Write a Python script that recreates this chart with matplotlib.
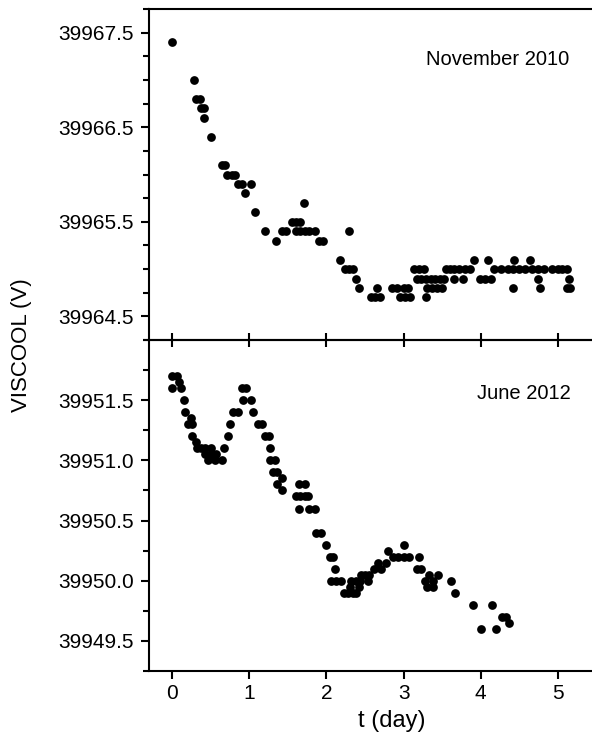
"""
ISCOOL voltage drift over a few days, two measurement campaigns
stacked on a common time axis
"""
import matplotlib
matplotlib.use("Agg")
import matplotlib.pyplot as plt
from matplotlib.ticker import FixedLocator, MultipleLocator, FormatStrFormatter

plt.rcParams["font.family"] = ["Liberation Sans", "DejaVu Sans"]

# November 2010 run: time (day) and voltage (V)
t_nov = [0.00, 0.28, 0.31, 0.36, 0.38, 0.41, 0.41, 0.51, 0.65, 0.69,
         0.71, 0.77, 0.82, 0.86, 0.91, 1.02, 0.95, 1.07, 1.20, 1.35,
         1.42, 1.48, 1.56, 1.61, 1.66, 1.71, 1.60, 1.66, 1.72, 1.78,
         1.85, 1.91, 1.96, 2.17, 2.29, 2.24, 2.29, 2.34, 2.38, 2.42,
         2.58, 2.63, 2.69, 2.65, 2.85, 2.92, 3.00, 3.06, 2.95, 3.02,
         3.08, 3.14, 3.20, 3.26, 3.18, 3.23, 3.29, 3.35, 3.41, 3.47,
         3.53, 3.31, 3.37, 3.43, 3.50, 3.29, 3.55, 3.60, 3.66, 3.72,
         3.79, 3.86, 3.66, 3.77, 3.91, 3.99, 4.06, 4.13, 4.10, 4.17,
         4.26, 4.35, 4.42, 4.50, 4.58, 4.66, 4.74, 4.82, 4.43, 4.64,
         4.42, 4.74, 4.77, 4.93, 5.00, 5.06, 5.12, 5.15, 5.12, 5.16]
v_nov = [39967.4, 39967.0, 39966.8, 39966.8, 39966.7, 39966.7, 39966.6, 39966.4, 39966.1, 39966.1,
         39966.0, 39966.0, 39966.0, 39965.9, 39965.9, 39965.9, 39965.8, 39965.6, 39965.4, 39965.3,
         39965.4, 39965.4, 39965.5, 39965.5, 39965.5, 39965.7, 39965.4, 39965.4, 39965.4, 39965.4,
         39965.4, 39965.3, 39965.3, 39965.1, 39965.4, 39965.0, 39965.0, 39965.0, 39964.9, 39964.8,
         39964.7, 39964.7, 39964.7, 39964.8, 39964.8, 39964.8, 39964.8, 39964.8, 39964.7, 39964.7,
         39964.7, 39965.0, 39965.0, 39965.0, 39964.9, 39964.9, 39964.9, 39964.9, 39964.9, 39964.9,
         39964.9, 39964.8, 39964.8, 39964.8, 39964.8, 39964.7, 39965.0, 39965.0, 39965.0, 39965.0,
         39965.0, 39965.0, 39964.9, 39964.9, 39965.1, 39964.9, 39964.9, 39964.9, 39965.1, 39965.0,
         39965.0, 39965.0, 39965.0, 39965.0, 39965.0, 39965.0, 39965.0, 39965.0, 39965.1, 39965.1,
         39964.8, 39964.9, 39964.8, 39965.0, 39965.0, 39965.0, 39965.0, 39964.9, 39964.8, 39964.8]

# June 2012 run
t_jun = [0.00, 0.06, 0.00, 0.09, 0.12, 0.15, 0.17, 0.24, 0.20, 0.26,
         0.26, 0.31, 0.32, 0.37, 0.42, 0.51, 0.42, 0.50, 0.57, 0.47,
         0.55, 0.64, 0.67, 0.73, 0.75, 0.79, 0.86, 0.90, 0.96, 0.92,
         1.02, 1.05, 1.11, 1.17, 1.20, 1.26, 1.27, 1.27, 1.33, 1.31,
         1.36, 1.42, 1.36, 1.43, 1.60, 1.66, 1.72, 1.76, 1.65, 1.72,
         1.64, 1.78, 1.85, 1.87, 1.93, 2.00, 2.04, 2.09, 2.11, 2.06,
         2.13, 2.19, 2.23, 2.28, 2.34, 2.38, 2.30, 2.42, 2.32, 2.38,
         2.43, 2.45, 2.50, 2.55, 2.54, 2.62, 2.71, 2.67, 2.77, 2.80,
         2.86, 2.93, 3.00, 3.07, 3.20, 3.00, 3.17, 3.23, 3.33, 3.28,
         3.38, 3.31, 3.38, 3.44, 3.61, 3.67, 3.90, 4.15, 4.00, 4.20,
         4.27, 4.33, 4.37]
v_jun = [39951.7, 39951.7, 39951.6, 39951.65, 39951.6, 39951.5, 39951.4, 39951.35, 39951.3, 39951.3,
         39951.2, 39951.15, 39951.1, 39951.1, 39951.1, 39951.1, 39951.05, 39951.05, 39951.05, 39951.0,
         39951.0, 39951.0, 39951.1, 39951.2, 39951.3, 39951.4, 39951.4, 39951.6, 39951.6, 39951.5,
         39951.5, 39951.4, 39951.3, 39951.3, 39951.2, 39951.2, 39951.1, 39951.0, 39951.0, 39950.9,
         39950.9, 39950.85, 39950.8, 39950.75, 39950.7, 39950.7, 39950.7, 39950.7, 39950.8, 39950.8,
         39950.6, 39950.6, 39950.6, 39950.4, 39950.4, 39950.3, 39950.2, 39950.2, 39950.1, 39950.0,
         39950.0, 39950.0, 39949.9, 39949.9, 39949.9, 39949.9, 39949.95, 39949.95, 39950.0, 39950.0,
         39950.0, 39950.05, 39950.05, 39950.05, 39950.0, 39950.1, 39950.1, 39950.15, 39950.15, 39950.25,
         39950.2, 39950.2, 39950.2, 39950.2, 39950.2, 39950.3, 39950.1, 39950.1, 39950.05, 39950.0,
         39950.0, 39949.95, 39949.95, 39950.05, 39950.0, 39949.9, 39949.8, 39949.8, 39949.6, 39949.6,
         39949.7, 39949.7, 39949.65]

nov_ticks = [39964.5, 39965.5, 39966.5, 39967.5]
jun_ticks = [39949.5, 39950.0, 39950.5, 39951.0, 39951.5]
day_ticks = [0, 1, 2, 3, 4, 5]

fig = plt.figure(figsize=(5.92, 7.36), dpi=100)
# the time axis runs on to t=6, past the right edge of the canvas
ax = fig.add_axes([0.2517, 0.5380, 0.8209, 0.4497])
ax2 = fig.add_axes([0.2517, 0.0883, 0.8209, 0.4497])

ax.plot(t_nov, v_nov, "o", color="black", ms=6.3, mew=0)
ax2.plot(t_jun, v_jun, "o", color="black", ms=6.3, mew=0)

for a in (ax, ax2):
    a.patch.set_visible(False)
    a.set_xlim(-0.3, 6.0)
    a.xaxis.set_major_locator(FixedLocator(day_ticks))
    a.yaxis.set_minor_locator(MultipleLocator(0.25))
    a.yaxis.set_major_formatter(FormatStrFormatter("%.1f"))
    a.spines["right"].set_visible(False)
    for s in a.spines.values():
        s.set_linewidth(1.5)
    a.tick_params(axis="y", which="major", direction="out", length=5.5, width=1.5,
                  labelsize=15, pad=5.5)
    a.tick_params(axis="y", which="minor", direction="out", length=4.5, width=1.5)

ax.set_ylim(39964.25, 39967.75)
ax.yaxis.set_major_locator(FixedLocator(nov_ticks))
ax.tick_params(axis="x", direction="inout", length=10, width=1.5, labelbottom=False)

ax2.set_ylim(39949.25, 39952.0)
ax2.yaxis.set_major_locator(FixedLocator(jun_ticks))
ax2.tick_params(axis="x", direction="out", length=5.5, width=1.5, labelsize=15, pad=4)
ax2.set_xlabel("t (day)", fontsize=17, labelpad=5)

ax.text(5.154, 39967.154, "November 2010", ha="right", va="baseline", fontsize=14.5)
ax2.text(5.167, 39951.506, "June 2012", ha="right", va="baseline", fontsize=14.5)

fig.text(22 / 592, 1 - 345 / 736, "VISCOOL (V)", rotation=90, ha="center", va="center",
         fontsize=16)

fig.savefig("out.png", dpi=100)
